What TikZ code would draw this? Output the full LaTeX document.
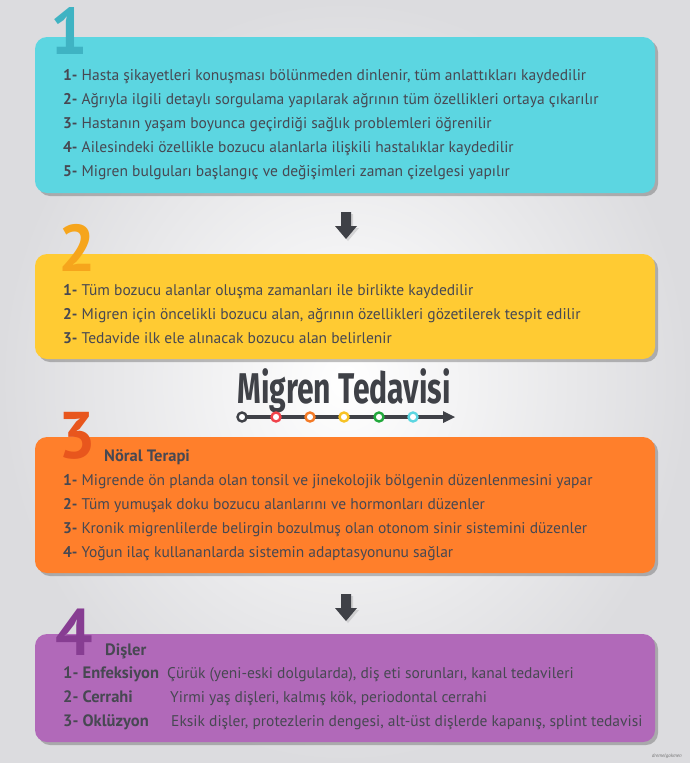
\documentclass[tikz,border=0pt]{standalone}
\usepackage{fontspec}
\setmainfont{PT Sans}
\newfontfamily\titlefont{Fira Sans}
\usetikzlibrary{shadows,calc}
\definecolor{backgray}{HTML}{DCDCDF}
\definecolor{textgray}{HTML}{474852}
\definecolor{arrowgray}{HTML}{3F4147}
\definecolor{cyanbox}{HTML}{5CD6E1}
\definecolor{cyannum}{HTML}{3FB3C3}
\definecolor{yellowbox}{HTML}{FFCB33}
\definecolor{yellownum}{HTML}{F6A51C}
\definecolor{orangebox}{HTML}{FF7F2B}
\definecolor{orangenum}{HTML}{E8561D}
\definecolor{purplebox}{HTML}{B169B9}
\definecolor{purplenum}{HTML}{873D92}
\definecolor{dotred}{HTML}{F0424A}
\definecolor{dotorange}{HTML}{F47A26}
\definecolor{dotyellow}{HTML}{F7C326}
\definecolor{dotgreen}{HTML}{22A93C}
\definecolor{dotcyan}{HTML}{5CD6E1}
\tikzset{
  stepcard/.style={rounded corners=12pt, drop shadow={shadow xshift=3pt, shadow yshift=-3pt, opacity=0.35, fill=black!70}},
  bignum/.style={font=\fontsize{66}{66}\selectfont\bfseries, anchor=base west, inner sep=0pt},
  line/.style={font=\fontsize{15.5}{18}\selectfont, text=textgray, anchor=base west, inner sep=0pt},
  heading/.style={font=\fontsize{16.5}{18}\selectfont\bfseries, text=textgray, anchor=base west, inner sep=0pt},
  downarrow/.style={fill=arrowgray, drop shadow={shadow xshift=2pt, shadow yshift=-2pt, opacity=0.25}},
  stop/.style={circle, draw=#1, line width=2.4pt, fill=white, inner sep=0pt, minimum size=9pt}
}
\begin{document}
\begin{tikzpicture}[x=1pt,y=-1pt]
			%%%%% START %%%%%
			\useasboundingbox (0,0) rectangle (690,763);
			\shade[inner color=white, outer color=backgray] (0,0) rectangle (690,763);
			
			% step 1
			\fill[cyanbox, stepcard] (35,37) rectangle (655,193);
			\node[bignum, text=cyannum] (num1) at (50,54) {1};
			\node[line] (s1a) at (63,80) {\textbf{1-} Hasta şikayetleri konuşması bölünmeden dinlenir, tüm anlattıkları kaydedilir};
			\node[line] (s1b) at (63,104) {\textbf{2-} Ağrıyla ilgili detaylı sorgulama yapılarak ağrının tüm özellikleri ortaya çıkarılır};
			\node[line] (s1c) at (63,128) {\textbf{3-} Hastanın yaşam boyunca geçirdiği sağlık problemleri öğrenilir};
			\node[line] (s1d) at (63,152) {\textbf{4-} Ailesindeki özellikle bozucu alanlarla ilişkili hastalıklar kaydedilir};
			\node[line] (s1e) at (63,176) {\textbf{5-} Migren bulguları başlangıç ve değişimleri zaman çizelgesi yapılır};
			
			\fill[downarrow] (341,212) -- (351,212) -- (351,226) -- (357,226) -- (346,239) -- (335,226) -- (341,226) -- cycle;
			
			% step 2
			\fill[yellowbox, stepcard] (35,254) rectangle (655,359);
			\node[bignum, text=yellownum] (num2) at (58,271) {2};
			\node[line] (s2a) at (63,295) {\textbf{1-} Tüm bozucu alanlar oluşma zamanları ile birlikte kaydedilir};
			\node[line] (s2b) at (63,319) {\textbf{2-} Migren için öncelikli bozucu alan, ağrının özellikleri gözetilerek tespit edilir};
			\node[line] (s2c) at (63,343) {\textbf{3-} Tedavide ilk ele alınacak bozucu alan belirlenir};
			
			% title
			\node[anchor=base, inner sep=0pt, text=arrowgray] (title) at (344,403) {\scalebox{0.70}[1]{\titlefont\fontsize{43}{43}\selectfont\bfseries Migren Tedavisi}};
			\draw[arrowgray, line width=3.5pt] (242,417) -- (446,417);
			\fill[arrowgray] (443,411) -- (455,417) -- (443,423) -- cycle;
			\foreach \cx/\cc [count=\i] in {242/arrowgray,276/dotred,310/dotorange,344/dotyellow,379/dotgreen,413/dotcyan}
				\node[stop=\cc] (stop\i) at (\cx,417) {};
			
			% step 3
			\fill[orangebox, stepcard] (35,437) rectangle (655,573);
			\node[bignum, text=orangenum] (num3) at (58,458) {3};
			\node[heading] (h3) at (104,461) {Nöral Terapi};
			\node[line] (s3a) at (63,485) {\textbf{1-} Migrende ön planda olan tonsil ve jinekolojik bölgenin düzenlenmesini yapar};
			\node[line] (s3b) at (63,509) {\textbf{2-} Tüm yumuşak doku bozucu alanlarını ve hormonları düzenler};
			\node[line] (s3c) at (63,533) {\textbf{3-} Kronik migrenlilerde belirgin bozulmuş olan otonom sinir sistemini düzenler};
			\node[line] (s3d) at (63,557) {\textbf{4-} Yoğun ilaç kullananlarda sistemin adaptasyonunu sağlar};
			
			\fill[downarrow] (341,594) -- (351,594) -- (351,608) -- (357,608) -- (346,621) -- (335,608) -- (341,608) -- cycle;
			
			% step 4
			\fill[purplebox, stepcard] (35,634) rectangle (655,742);
			\node[bignum, text=purplenum] (num4) at (55,655) {4};
			\node[heading] (h4) at (105,655) {Dişler};
			\node[heading] (k4a) at (63,678) {1- Enfeksiyon};
			\node[line] (s4a) at (167,678) {Çürük (yeni-eski dolgularda), diş eti sorunları, kanal tedavileri};
			\node[heading] (k4b) at (63,702) {2- Cerrahi};
			\node[line] (s4b) at (170,702) {Yirmi yaş dişleri, kalmış kök, periodontal cerrahi};
			\node[heading] (k4c) at (63,726) {3- Oklüzyon};
			\node[line] (s4c) at (171,726) {Eksik dişler, protezlerin dengesi, alt-üst dişlerde kapanış, splint tedavisi};
			
			\node[anchor=base east, inner sep=0pt, text=black!55, font=\fontsize{5}{5}\selectfont\itshape] (sign) at (682,757) {dremelgokmen};
			%%%%% END %%%%%
\end{tikzpicture}
\end{document}
